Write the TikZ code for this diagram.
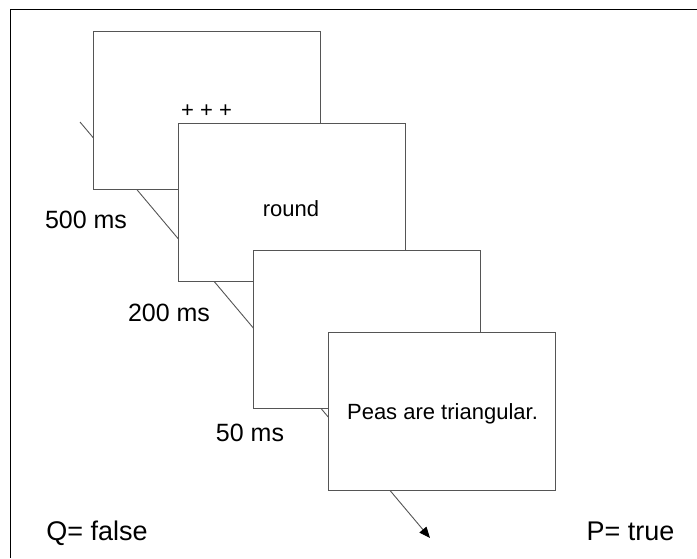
\documentclass[tikz,border=0pt]{standalone}
\usepackage{fontspec}
\setmainfont{Liberation Sans}
\usetikzlibrary{arrows.meta}
\definecolor{boxline}{HTML}{555555}
\begin{document}
\begin{tikzpicture}[x=1pt,y=-1pt,
  screen/.style={draw=boxline,line width=1pt,fill=white,minimum width=227pt,minimum height=158pt,inner sep=0pt},
  boxtext/.style={anchor=base,font=\fontsize{22}{26}\selectfont,inner sep=0pt},
  label/.style={anchor=base,font=\fontsize{25}{30}\selectfont,inner sep=0pt},
  biglabel/.style={anchor=base,font=\fontsize{27}{32}\selectfont,inner sep=0pt},
  flow/.style={draw=boxline,line width=0.9pt,-{Triangle[length=11pt,width=9pt,color=black,fill=black]}}]
\useasboundingbox (0,0) rectangle (697,558);
\draw[line width=1.8pt] (10.5,558) -- (10.5,9.5) -- (697,9.5);
\coordinate (s) at (80,122);
\coordinate (e) at (430,538);
\draw[flow] (s) -- (e);
\node[screen] (b1) at (206.5,110.5) {};
\node[screen] (b2) at (291.5,202) {};
\node[screen] (b3) at (367,329) {};
\node[screen] (b4) at (442,411) {};
\node[boxtext] (t1) at (206.5,117) {+ + +};
\node[boxtext] (t2) at (291,216.5) {round};
\node[boxtext] (t4) at (442.5,419.5) {Peas are triangular.};
\node[label] (l1) at (86,228) {500 ms};
\node[label] (l2) at (169,321.5) {200 ms};
\node[label] (l3) at (250,441.5) {50 ms};
\node[biglabel] (q) at (97,540) {Q= false};
\node[biglabel] (p) at (630.5,540) {P= true};
\end{tikzpicture}
\end{document}
